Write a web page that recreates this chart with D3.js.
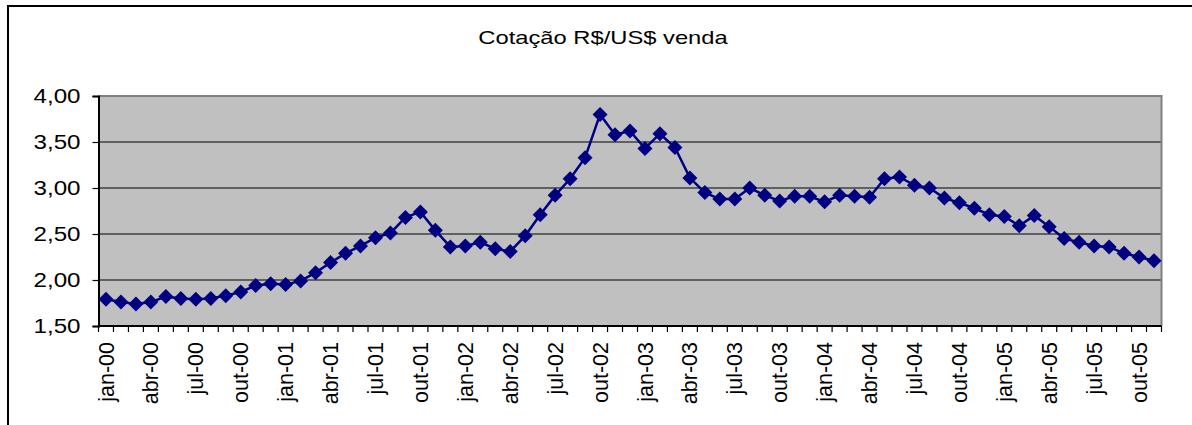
<!DOCTYPE html>
<html>
<head>
<meta charset="utf-8">
<script src="https://cdn.jsdelivr.net/npm/d3@7"></script>
<style>
    body { margin: 0; background: #fff; }
    svg { display: block; font-family: "Liberation Sans", Arial, sans-serif; }
</style>
</head>
<body>
<svg></svg>
<script>
const monthNames = ["jan", "fev", "mar", "abr", "mai", "jun", "jul", "ago", "set", "out", "nov", "dez"];
const years = ["00", "01", "02", "03", "04", "05"];

// R$/US$ venda, jan-00 .. nov-05
const rates2000 = [1.79, 1.76, 1.74, 1.76, 1.82, 1.80, 1.79, 1.80, 1.83, 1.87, 1.94, 1.96];
const rates2001 = [1.95, 1.99, 2.08, 2.19, 2.29, 2.37, 2.46, 2.51, 2.68, 2.74, 2.54, 2.36];
const rates2002 = [2.37, 2.41, 2.34, 2.31, 2.48, 2.71, 2.92, 3.10, 3.33, 3.80, 3.58, 3.62];
const rates2003 = [3.43, 3.59, 3.44, 3.11, 2.95, 2.88, 2.88, 3.00, 2.92, 2.86, 2.91, 2.91];
const rates2004 = [2.85, 2.92, 2.91, 2.90, 3.10, 3.12, 3.03, 3.00, 2.89, 2.84, 2.78, 2.71];
const rates2005 = [2.69, 2.59, 2.70, 2.58, 2.45, 2.41, 2.37, 2.36, 2.29, 2.25, 2.21];

const yTicks = [1.5, 2.0, 2.5, 3.0, 3.5, 4.0];

const allRates = [].concat(rates2000, rates2001, rates2002, rates2003, rates2004, rates2005);
const months = [];
years.forEach(y => monthNames.forEach(m => months.push(m + "-" + y)));
const data = allRates.map((v, i) => ({ month: months[i], value: v }));

const W = 1192, H = 425;
const margin = { top: 96, right: 30.5, bottom: 99, left: 98.5 };
const width = W - margin.left - margin.right;
const height = H - margin.top - margin.bottom;

const svg = d3.select("svg")
    .attr("width", W)
    .attr("height", H);

// outer chart frame
svg.append("rect")
    .attr("x", 8)
    .attr("y", 6)
    .attr("width", 1300)
    .attr("height", 500)
    .attr("fill", "none")
    .attr("stroke", "#000")
    .attr("stroke-width", 2);

svg.append("text")
    .attr("transform", "translate(603,44) scale(1.25,1)")
    .attr("text-anchor", "middle")
    .attr("font-size", "19px")
    .attr("fill", "#000")
    .text("Cotação R$/US$ venda");

const g = svg.append("g")
    .attr("transform", "translate(" + margin.left + "," + margin.top + ")");

const xScale = d3.scaleBand()
    .domain(data.map(d => d.month))
    .range([0, width]);

const yScale = d3.scaleLinear()
    .domain([1.5, 4])
    .range([height, 0]);

g.append("rect")
    .attr("width", width)
    .attr("height", height)
    .attr("fill", "#c0c0c0");

// gridlines
g.selectAll(".grid")
    .data(yTicks.filter(t => t > 1.5 && t < 4))
    .enter().append("line")
    .attr("class", "grid")
    .attr("x1", 0)
    .attr("x2", width)
    .attr("y1", d => yScale(d))
    .attr("y2", d => yScale(d))
    .attr("stroke", "#000")
    .attr("stroke-width", 1.2);

// top / right border of plot area
g.append("path")
    .attr("d", "M0," + yScale(4) + "H" + width + "V" + height)
    .attr("fill", "none")
    .attr("stroke", "#808080")
    .attr("stroke-width", 2);

// y axis
const yAxis = d3.axisLeft(yScale)
    .tickValues(yTicks)
    .tickSize(6)
    .tickFormat(d => d3.format(".2f")(d).replace(".", ","));

const yAxisG = g.append("g").call(yAxis);
yAxisG.select(".domain").attr("stroke", "#000").attr("stroke-width", 2);
yAxisG.selectAll(".tick line").attr("stroke", "#000").attr("stroke-width", 1.2);
yAxisG.selectAll(".tick text")
    .attr("x", -14.5)
    .attr("transform", "scale(1.24,1)")
    .attr("font-size", "19.5px")
    .attr("font-family", "Liberation Sans, Arial, sans-serif")
    .attr("fill", "#000");

// x axis: ticks between categories, labels every third month
const xAxisG = g.append("g")
    .attr("transform", "translate(0," + height + ")");

xAxisG.append("line")
    .attr("x1", 0)
    .attr("x2", width)
    .attr("stroke", "#000")
    .attr("stroke-width", 2);

xAxisG.selectAll(".xtick")
    .data(months.slice(0, data.length).concat(["end"]))
    .enter().append("line")
    .attr("class", "xtick")
    .attr("x1", (d, i) => i < data.length ? xScale(d) : width)
    .attr("x2", (d, i) => i < data.length ? xScale(d) : width)
    .attr("y1", 0)
    .attr("y2", 6)
    .attr("stroke", "#000")
    .attr("stroke-width", 1.2);

xAxisG.selectAll(".xlabel")
    .data(data.filter((d, i) => i % 3 === 0))
    .enter().append("text")
    .attr("class", "xlabel")
    .attr("transform", d => "translate(" + (xScale(d.month) + xScale.bandwidth() / 2) + ",16) rotate(-90)")
    .attr("text-anchor", "end")
    .attr("dy", "0.35em")
    .attr("font-size", "21.5px")
    .attr("fill", "#000")
    .text(d => d.month);

// series
const line = d3.line()
    .x(d => xScale(d.month) + xScale.bandwidth() / 2)
    .y(d => yScale(d.value));

g.append("path")
    .datum(data)
    .attr("d", line)
    .attr("fill", "none")
    .attr("stroke", "#000080")
    .attr("stroke-width", 2.5);

const r = 7.5;
g.selectAll(".point")
    .data(data)
    .enter().append("path")
    .attr("class", "point")
    .attr("transform", d => "translate(" + (xScale(d.month) + xScale.bandwidth() / 2) + "," + yScale(d.value) + ")")
    .attr("d", "M0," + (-r) + "L" + r + ",0L0," + r + "L" + (-r) + ",0Z")
    .attr("fill", "#000080");
</script>
</body>
</html>
